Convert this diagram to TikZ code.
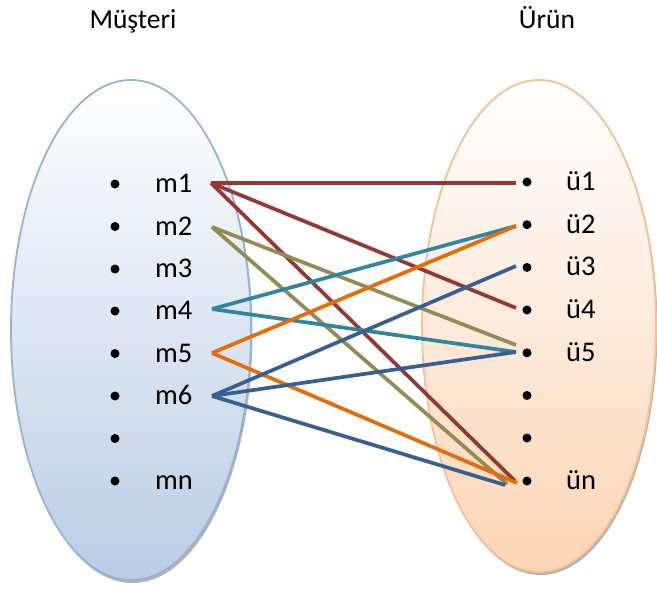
\documentclass[tikz,border=0pt]{standalone}
\usepackage{fontspec}
\setmainfont{Carlito}
\usetikzlibrary{shapes.geometric,shadows}
\definecolor{cred}{HTML}{953735}
\definecolor{colive}{HTML}{948A54}
\definecolor{cteal}{HTML}{31859C}
\definecolor{corange}{HTML}{E46C0A}
\definecolor{cblue}{HTML}{376092}
\definecolor{lborder}{HTML}{95B3D7}
\definecolor{lfill}{HTML}{B9CDE5}
\definecolor{rborder}{HTML}{FAC090}
\definecolor{rfill}{HTML}{FBD5B5}
\begin{document}
\begin{tikzpicture}[x=1pt,y=-1pt,
  setshape/.style={ellipse, inner sep=0pt, line width=1.8pt,
    drop shadow={shadow xshift=1.5pt, shadow yshift=-3pt, fill=black, opacity=0.3}},
  dotnode/.style={circle, fill=black, inner sep=0pt, minimum size=9pt},
  lbl/.style={inner sep=0pt, anchor=base west, font=\fontsize{28.5}{32}\selectfont},
  ttl/.style={inner sep=0pt, anchor=base, font=\fontsize{27.5}{32}\selectfont},
  conn/.style={line width=3.7pt}]
\useasboundingbox (0,0) rectangle (657,592);
% sets
\node[setshape, minimum width=240pt, minimum height=500pt, draw=lborder,
      top color=white, bottom color=lfill] (L) at (131,330) {};
\node[setshape, minimum width=234pt, minimum height=492pt, draw=rborder,
      top color=white, bottom color=rfill] (R) at (539,326) {};
% titles
\node[ttl] (tL) at (133,28) {Müşteri};
\node[ttl] (tR) at (547,28) {Ürün};
% left items
\foreach \i/\y/\t in {1/184/m1,2/226.5/m2,3/269/m3,4/311/m4,5/353.5/m5,6/396/m6,7/438.5/,8/481/mn}{
  \node[dotnode] (lb\i) at (115,\y) {};
  \node[lbl] (lt\i) at (155,\y+8.5) {\t};
}
% right items
\foreach \i/\y/\t in {1/182/ü1,2/224.7/ü2,3/267.4/ü3,4/310/ü4,5/352.8/ü5,6/395.5/,7/438/,8/481/ün}{
  \node[dotnode] (rb\i) at (527,\y) {};
  \node[lbl] (rt\i) at (566,\y+8.5) {\t};
}
% connector ends
\coordinate (a1) at (211,183);
\coordinate (a2) at (212,227);
\coordinate (a4) at (212,309);
\coordinate (a5) at (212,353);
\coordinate (a6) at (212,396);
\coordinate (z1) at (516,183);
\coordinate (z2) at (516,226);
\coordinate (z3) at (516,266);
\coordinate (z4) at (516,308);
\coordinate (z5o) at (516,345);
\coordinate (z5) at (516,352);
\coordinate (zn-r) at (515,481);
\coordinate (zn-o) at (517,483);
\coordinate (zn-g) at (507,484);
\coordinate (zn-b) at (505,485);
% connectors
\draw[conn, cred] (a1) -- (z1);
\draw[conn, cred] (a1) -- (z4);
\draw[conn, cred] (a1) -- (zn-r);
\draw[conn, colive] (a2) -- (z5o);
\draw[conn, colive] (a2) -- (zn-g);
\draw[conn, cteal] (a4) -- (z2);
\draw[conn, cteal] (a4) -- (z5);
\draw[conn, corange] (a5) -- (z2);
\draw[conn, corange] (a5) -- (zn-o);
\draw[conn, cblue] (a6) -- (z3);
\draw[conn, cblue] (a6) -- (z5);
\draw[conn, cblue] (a6) -- (zn-b);
\end{tikzpicture}
\end{document}
